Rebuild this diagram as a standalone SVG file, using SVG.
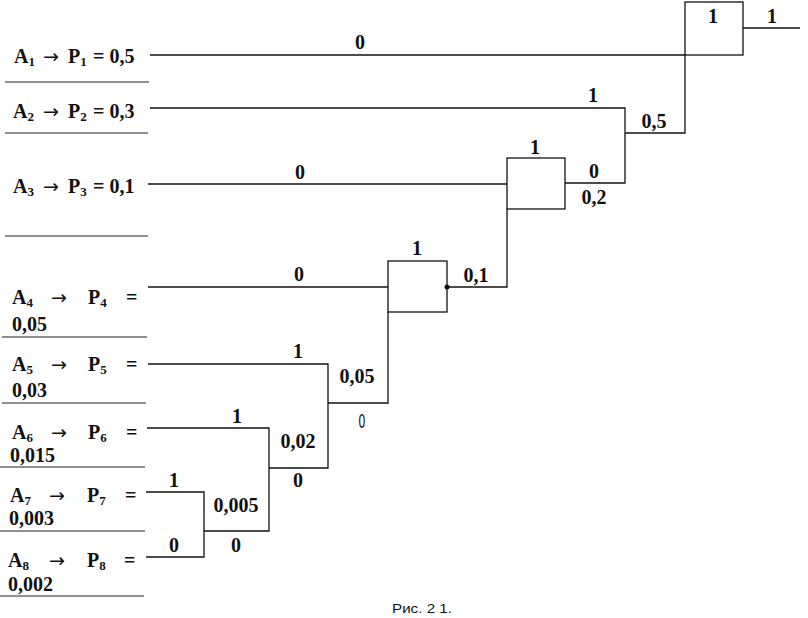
<svg xmlns="http://www.w3.org/2000/svg" width="808" height="618" viewBox="0 0 808 618">
<style>
.t{font-family:"Liberation Serif","Times New Roman",serif;font-weight:bold;font-size:20px;fill:#111}
.s{font-size:13px}
.ar{font-family:"DejaVu Sans",sans-serif;font-weight:normal;font-size:19px}
.c{text-anchor:middle}
.ln{fill:none;stroke:#111;stroke-width:1.3}
.sep{fill:none;stroke:#222;stroke-width:1.2}
.box{fill:none;stroke:#111;stroke-width:1.3}
</style>
<rect width="808" height="618" fill="#fff"/>
<g id="separators">
<path class="sep" d="M5 82H149M5 133H148M5 236H148M2 337H147M2 403H146M0 467H145M0 531H145M0 596H144"/>
</g>
<g id="connectors">
<path class="ln" d="M150 55H685"/>
<path class="ln" d="M743 28H800"/>
<path class="ln" d="M685 55V133H625"/>
<path class="ln" d="M150 108H625V183H565"/>
<path class="ln" d="M148 184H507"/>
<path class="ln" d="M507 209V287H447"/>
<path class="ln" d="M148 287H388"/>
<path class="ln" d="M388 312V403H328"/>
<path class="ln" d="M148 364H328V468H269"/>
<path class="ln" d="M147 428H269V531H204"/>
<path class="ln" d="M146 492H204V557H146"/>
<circle cx="447" cy="287" r="2.5" fill="#111"/>
</g>
<g id="edge-labels" class="t c">
<text x="360" y="49">0</text>
<text x="772" y="23">1</text>
<text x="593" y="102">1</text>
<text x="654" y="128">0,5</text>
<text x="300" y="179">0</text>
<text x="594" y="178">0</text>
<text x="594" y="204">0,2</text>
<text x="299" y="281">0</text>
<text x="476" y="282">0,1</text>
<text x="298" y="358">1</text>
<text x="357" y="383">0,05</text>
<text x="237" y="423">1</text>
<text x="298" y="448">0,02</text>
<text x="298" y="487">0</text>
<text x="174" y="487">1</text>
<text x="174" y="552">0</text>
<text x="236" y="512">0,005</text>
<text x="236" y="552">0</text>
</g>
<text x="362" y="428" font-family="'DejaVu Sans',sans-serif" font-size="19" fill="#222" text-anchor="middle" transform="translate(362 0) scale(0.6 1) translate(-362 0)">0</text>
<g id="node-box1">
<rect class="box" x="685" y="2" width="58" height="53"/>
<text class="t c" x="713" y="23">1</text>
</g>
<g id="node-box2">
<rect class="box" x="507" y="158" width="58" height="51"/>
<text class="t c" x="535" y="154">1</text>
</g>
<g id="node-box3">
<rect class="box" x="388" y="261" width="59" height="51"/>
<text class="t c" x="417" y="255">1</text>
</g>
<g id="node-a1" class="t">
<text x="14" y="63">A<tspan class="s" dy="3">1</tspan><tspan class="ar" x="43" dy="-3">→</tspan><tspan x="68">P</tspan><tspan class="s" dy="3">1</tspan><tspan x="93" dy="-3">= 0,5</tspan></text>
</g>
<g id="node-a2" class="t">
<text x="13" y="118">A<tspan class="s" dy="3">2</tspan><tspan class="ar" x="43" dy="-3">→</tspan><tspan x="68">P</tspan><tspan class="s" dy="3">2</tspan><tspan x="93" dy="-3">= 0,3</tspan></text>
</g>
<g id="node-a3" class="t">
<text x="13" y="193">A<tspan class="s" dy="3">3</tspan><tspan class="ar" x="43" dy="-3">→</tspan><tspan x="68">P</tspan><tspan class="s" dy="3">3</tspan><tspan x="93" dy="-3">= 0,1</tspan></text>
</g>
<g id="node-a4" class="t">
<text x="12" y="304">A<tspan class="s" dy="3">4</tspan><tspan class="ar" x="51" dy="-3">→</tspan><tspan x="88">P</tspan><tspan class="s" dy="3">4</tspan><tspan x="126" dy="-3">=</tspan></text>
<text x="12" y="331">0,05</text>
</g>
<g id="node-a5" class="t">
<text x="12" y="371">A<tspan class="s" dy="3">5</tspan><tspan class="ar" x="51" dy="-3">→</tspan><tspan x="88">P</tspan><tspan class="s" dy="3">5</tspan><tspan x="126" dy="-3">=</tspan></text>
<text x="12" y="397">0,03</text>
</g>
<g id="node-a6" class="t">
<text x="12" y="439">A<tspan class="s" dy="3">6</tspan><tspan class="ar" x="51" dy="-3">→</tspan><tspan x="88">P</tspan><tspan class="s" dy="3">6</tspan><tspan x="126" dy="-3">=</tspan></text>
<text x="10" y="462">0,015</text>
</g>
<g id="node-a7" class="t">
<text x="10" y="502">A<tspan class="s" dy="3">7</tspan><tspan class="ar" x="49" dy="-3">→</tspan><tspan x="87">P</tspan><tspan class="s" dy="3">7</tspan><tspan x="125" dy="-3">=</tspan></text>
<text x="9" y="525">0,003</text>
</g>
<g id="node-a8" class="t">
<text x="8" y="567">A<tspan class="s" dy="3">8</tspan><tspan class="ar" x="49" dy="-3">→</tspan><tspan x="87">P</tspan><tspan class="s" dy="3">8</tspan><tspan x="124" dy="-3">=</tspan></text>
<text x="8" y="591">0,002</text>
</g>
<text x="392" y="613" font-family="'Liberation Sans',Arial,sans-serif" font-size="12" fill="#111" textLength="60" lengthAdjust="spacingAndGlyphs">Рис. 2 1.</text>
</svg>
